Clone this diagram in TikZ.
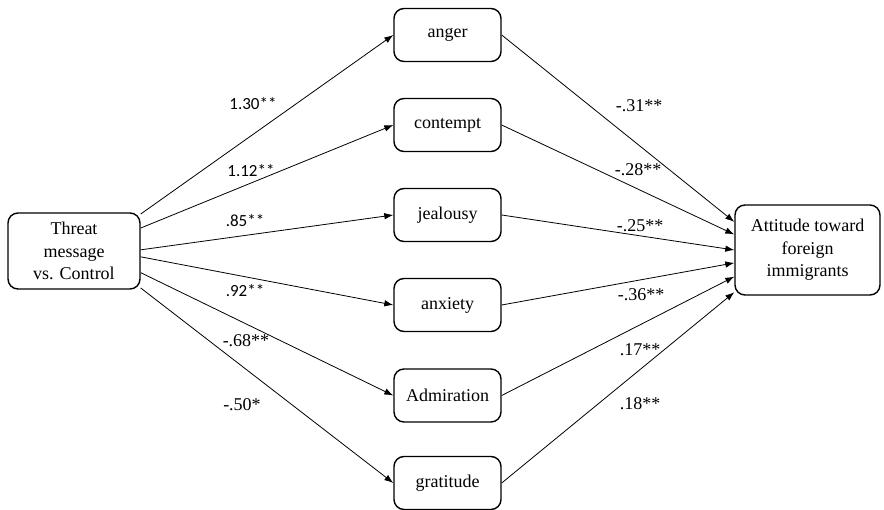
\documentclass[tikz,border=0pt]{standalone}
\usepackage{fontspec}
\setmainfont{Liberation Serif}
\newfontfamily\calfont{Carlito}
\usetikzlibrary{arrows.meta}
\begin{document}
\begin{tikzpicture}[x=1pt,y=-1pt,
  box/.style={draw, line width=1.4pt, rounded corners=10pt, align=center,
    font=\fontsize{18}{22.5}\selectfont, inner sep=0pt},
  emo/.style={box, minimum width=107pt, minimum height=53pt},
  arr/.style={line width=0.8pt, -{Latex[length=9pt,width=6.5pt]}},
  lblL/.style={font=\calfont\fontsize{17}{20}\selectfont, inner sep=0pt},
  lblR/.style={font=\fontsize{18}{20}\selectfont, inner sep=0pt}]
\useasboundingbox (0,0) rectangle (884,510);
\node[box, minimum width=132pt, minimum height=76pt] (threat) at (74,251) {Threat\\message\\vs. Control};
\node[emo] (anger) at (447.5,35) {anger};
\node[emo] (contempt) at (447.5,125) {contempt};
\node[emo] (jealousy) at (447.5,215) {jealousy};
\node[emo] (anxiety) at (447.5,305) {anxiety};
\node[emo] (admiration) at (447.5,395.5) {Admiration};
\node[emo] (gratitude) at (447.5,483) {gratitude};
\node[box, minimum width=145pt, minimum height=90pt] (att) at (807.5,250) {Attitude toward\\foreign\\immigrants};

\draw[arr] (threat.29) -- (anger.west);
\draw[arr] (threat.19) -- (contempt.west);
\draw[arr] (threat.1) -- (jealousy.west);
\draw[arr] (threat.-5) -- (anxiety.west);
\draw[arr] (threat.-18) -- (admiration.west);
\draw[arr] (threat.-29) -- (gratitude.west);

\draw[arr] (anger.east) -- (att.159);
\draw[arr] (contempt.east) -- (att.168.3);
\draw[arr] (jealousy.east) -- (att.180);
\draw[arr] (anxiety.east) -- (att.190.2);
\draw[arr] (admiration.east) -- (att.200.4);
\draw[arr] (gratitude.east) -- (att.210);

\node[lblL] (l1) at (253,104) {1.30**};
\node[lblL] (l2) at (251,171) {1.12**};
\node[lblL] (l3) at (245,221) {.85**};
\node[lblL] (l4) at (245,291) {.92**};
\node[lblR] (l5) at (246,341) {-.68**};
\node[lblR] (l6) at (242,405) {-.50*};
\node[lblR] (r1) at (639,106) {-.31**};
\node[lblR] (r2) at (638,170) {-.28**};
\node[lblR] (r3) at (640,226) {-.25**};
\node[lblR] (r4) at (641,295) {-.36**};
\node[lblR] (r5) at (640,350) {.17**};
\node[lblR] (r6) at (640,404) {.18**};
\end{tikzpicture}
\end{document}
